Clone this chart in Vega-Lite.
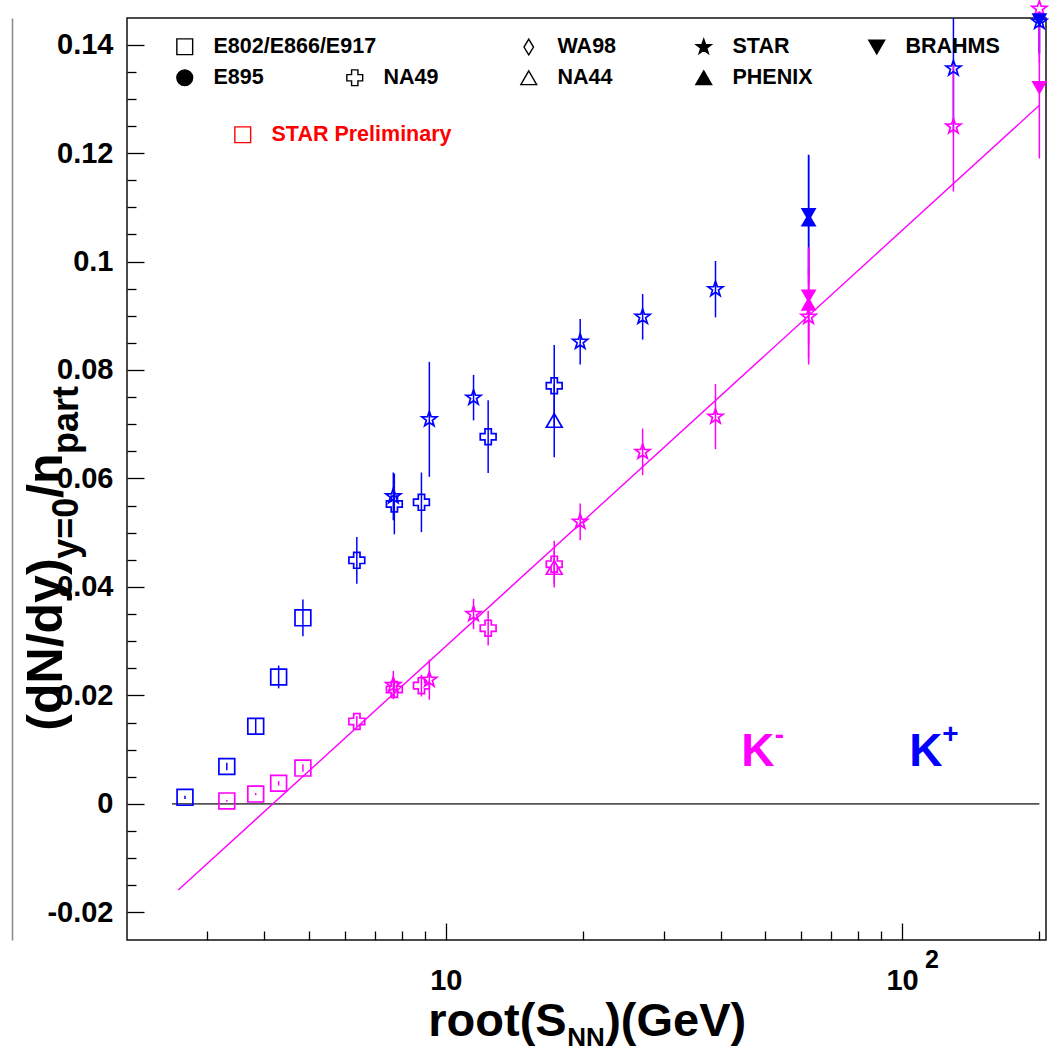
{
  "$schema": "https://vega.github.io/schema/vega-lite/v6.json",
  "width": 919,
  "height": 922,
  "autosize": {"type": "none"},
  "padding": {"left": 127, "top": 18, "right": 3, "bottom": 107},
  "background": "white",
  "config": {
    "view": {"stroke": "#111111", "strokeWidth": 1.5},
    "font": "Liberation Sans",
    "axis": {"labelFont": "Liberation Sans", "labelFontWeight": "bold", "labelColor": "black", "tickColor": "black", "tickWidth": 1.3, "grid": false, "domain": false},
    "legend": {"labelFont": "Liberation Sans", "labelFontSize": 21.5, "labelFontWeight": "bold", "labelColor": "black", "labelOffset": 18, "labelLimit": 600, "title": null, "padding": 0, "symbolSize": 250, "symbolStrokeWidth": 1.4, "rowPadding": 8, "symbolStrokeColor": "black", "symbolOpacity": 1}
  },
  "datasets": {
    "kaons": [
      {"E": 2.68, "y": 0.0012, "ylo": 0.0009, "yhi": 0.0015, "particle": "K+", "exp": "E802/E866/E917", "source": "published"},
      {"E": 3.31, "y": 0.0069, "ylo": 0.0062, "yhi": 0.0076, "particle": "K+", "exp": "E802/E866/E917", "source": "published"},
      {"E": 3.83, "y": 0.0143, "ylo": 0.0129, "yhi": 0.0157, "particle": "K+", "exp": "E802/E866/E917", "source": "published"},
      {"E": 4.30, "y": 0.0234, "ylo": 0.0213, "yhi": 0.0255, "particle": "K+", "exp": "E802/E866/E917", "source": "published"},
      {"E": 4.86, "y": 0.0343, "ylo": 0.0309, "yhi": 0.0377, "particle": "K+", "exp": "E802/E866/E917", "source": "published"},
      {"E": 3.31, "y": 0.00055, "ylo": 0.0004, "yhi": 0.0007, "particle": "K-", "exp": "E802/E866/E917", "source": "published"},
      {"E": 3.83, "y": 0.0018, "ylo": 0.0016, "yhi": 0.002, "particle": "K-", "exp": "E802/E866/E917", "source": "published"},
      {"E": 4.30, "y": 0.0038, "ylo": 0.0034, "yhi": 0.0042, "particle": "K-", "exp": "E802/E866/E917", "source": "published"},
      {"E": 4.86, "y": 0.0066, "ylo": 0.0059, "yhi": 0.0073, "particle": "K-", "exp": "E802/E866/E917", "source": "published"},
      {"E": 6.38, "y": 0.0449, "ylo": 0.0406, "yhi": 0.0492, "particle": "K+", "exp": "NA49", "source": "published"},
      {"E": 7.71, "y": 0.0553, "ylo": 0.0497, "yhi": 0.0609, "particle": "K+", "exp": "NA49", "source": "published"},
      {"E": 8.84, "y": 0.0556, "ylo": 0.0501, "yhi": 0.0611, "particle": "K+", "exp": "NA49", "source": "published"},
      {"E": 12.38, "y": 0.0677, "ylo": 0.061, "yhi": 0.0744, "particle": "K+", "exp": "NA49", "source": "published"},
      {"E": 17.28, "y": 0.0771, "ylo": 0.0696, "yhi": 0.0846, "particle": "K+", "exp": "NA49", "source": "published"},
      {"E": 17.28, "y": 0.0707, "ylo": 0.0639, "yhi": 0.0775, "particle": "K+", "exp": "NA44", "source": "published"},
      {"E": 6.38, "y": 0.0152, "ylo": 0.0142, "yhi": 0.0162, "particle": "K-", "exp": "NA49", "source": "published"},
      {"E": 7.71, "y": 0.0211, "ylo": 0.0196, "yhi": 0.0226, "particle": "K-", "exp": "NA49", "source": "published"},
      {"E": 8.84, "y": 0.0218, "ylo": 0.0198, "yhi": 0.0238, "particle": "K-", "exp": "NA49", "source": "published"},
      {"E": 12.38, "y": 0.0324, "ylo": 0.0292, "yhi": 0.0356, "particle": "K-", "exp": "NA49", "source": "published"},
      {"E": 17.28, "y": 0.0442, "ylo": 0.0399, "yhi": 0.0485, "particle": "K-", "exp": "NA49", "source": "published"},
      {"E": 17.28, "y": 0.0436, "ylo": 0.0406, "yhi": 0.0466, "particle": "K-", "exp": "NA44", "source": "published"},
      {"E": 7.67, "y": 0.0567, "ylo": 0.0523, "yhi": 0.0611, "particle": "K+", "exp": "STAR", "source": "STAR Preliminary"},
      {"E": 9.2, "y": 0.0709, "ylo": 0.0603, "yhi": 0.0815, "particle": "K+", "exp": "STAR", "source": "published"},
      {"E": 11.5, "y": 0.0749, "ylo": 0.0707, "yhi": 0.0791, "particle": "K+", "exp": "STAR", "source": "STAR Preliminary"},
      {"E": 19.7, "y": 0.0852, "ylo": 0.081, "yhi": 0.0894, "particle": "K+", "exp": "STAR", "source": "STAR Preliminary"},
      {"E": 27.0, "y": 0.0898, "ylo": 0.0856, "yhi": 0.094, "particle": "K+", "exp": "STAR", "source": "STAR Preliminary"},
      {"E": 39.0, "y": 0.0949, "ylo": 0.0897, "yhi": 0.1001, "particle": "K+", "exp": "STAR", "source": "STAR Preliminary"},
      {"E": 129.6, "y": 0.1356, "ylo": 0.1236, "yhi": 0.1476, "particle": "K+", "exp": "STAR", "source": "published"},
      {"E": 200, "y": 0.1442, "ylo": 0.1382, "yhi": 0.1502, "particle": "K+", "exp": "STAR", "source": "published"},
      {"E": 7.67, "y": 0.0219, "ylo": 0.0193, "yhi": 0.0245, "particle": "K-", "exp": "STAR", "source": "STAR Preliminary"},
      {"E": 9.2, "y": 0.0229, "ylo": 0.0192, "yhi": 0.0266, "particle": "K-", "exp": "STAR", "source": "published"},
      {"E": 11.5, "y": 0.035, "ylo": 0.0322, "yhi": 0.0378, "particle": "K-", "exp": "STAR", "source": "STAR Preliminary"},
      {"E": 19.7, "y": 0.052, "ylo": 0.0486, "yhi": 0.0554, "particle": "K-", "exp": "STAR", "source": "STAR Preliminary"},
      {"E": 27.0, "y": 0.0649, "ylo": 0.0606, "yhi": 0.0692, "particle": "K-", "exp": "STAR", "source": "STAR Preliminary"},
      {"E": 39.0, "y": 0.0714, "ylo": 0.0654, "yhi": 0.0774, "particle": "K-", "exp": "STAR", "source": "STAR Preliminary"},
      {"E": 62.4, "y": 0.0898, "ylo": 0.081, "yhi": 0.0986, "particle": "K-", "exp": "STAR", "source": "published"},
      {"E": 129.6, "y": 0.1249, "ylo": 0.1129, "yhi": 0.1369, "particle": "K-", "exp": "STAR", "source": "published"},
      {"E": 200, "y": 0.1466, "ylo": 0.1366, "yhi": 0.1566, "particle": "K-", "exp": "STAR", "source": "published"},
      {"E": 62.4, "y": 0.1077, "ylo": 0.0957, "yhi": 0.1197, "particle": "K+", "exp": "PHENIX", "source": "published"},
      {"E": 62.4, "y": 0.1086, "ylo": 0.0976, "yhi": 0.1196, "particle": "K+", "exp": "BRAHMS", "source": "published"},
      {"E": 200, "y": 0.1445, "ylo": 0.1385, "yhi": 0.1505, "particle": "K+", "exp": "BRAHMS", "source": "published"},
      {"E": 62.4, "y": 0.0922, "ylo": 0.0822, "yhi": 0.1022, "particle": "K-", "exp": "PHENIX", "source": "published"},
      {"E": 62.4, "y": 0.0936, "ylo": 0.0846, "yhi": 0.1026, "particle": "K-", "exp": "BRAHMS", "source": "published"},
      {"E": 200, "y": 0.132, "ylo": 0.119, "yhi": 0.145, "particle": "K-", "exp": "BRAHMS", "source": "published"}
    ],
    "fit": [
      {"E": 2.59, "y": -0.0159},
      {"E": 200, "y": 0.1288}
    ],
    "zero": [
      {"E": 2.51, "y": 0},
      {"E": 200, "y": 0}
    ]
  },
  "layer": [
    {
      "data": {"name": "kaons"},
      "mark": {"type": "rule", "strokeWidth": 1.5, "clip": true},
      "encoding": {
        "x": {"field": "E", "type": "quantitative",
          "scale": {"type": "log", "domain": [2, 206.8], "nice": false},
          "axis": {"orient": "bottom", "values": [10, 100], "labelExpr": "'10'", "tickSize": -17, "labelPadding": 43, "labelFontSize": 29, "labelFlush": false, "labelOverlap": false, "title": null}},
        "y": {"field": "ylo", "type": "quantitative",
          "scale": {"domain": [-0.0251, 0.1449], "nice": false, "zero": false},
          "axis": {"orient": "left", "values": [-0.02, 0, 0.02, 0.04, 0.06, 0.08, 0.1, 0.12, 0.14], "labelExpr": "toString(datum.value)", "tickSize": -17, "labelPadding": 31, "labelFontSize": 29, "labelFlush": false, "labelOverlap": false, "title": null}},
        "y2": {"field": "yhi"},
        "color": {"field": "particle", "type": "nominal", "scale": {"domain": ["K+", "K-"], "range": ["#0000ff", "#ff00ff"]}, "legend": null}
      }
    },
    {
      "data": {"name": "zero"},
      "mark": {"type": "line", "color": "#555555", "strokeWidth": 1.6},
      "encoding": {
        "x": {"field": "E", "type": "quantitative",
          "axis": {"orient": "bottom", "values": [3, 4, 5, 6, 7, 8, 9, 20, 30, 40, 50, 60, 70, 80, 90, 200], "tickSize": -9, "labels": false, "title": null}},
        "y": {"field": "y", "type": "quantitative",
          "axis": {"orient": "left", "values": [-0.015, -0.01, -0.005, 0.005, 0.01, 0.015, 0.025, 0.03, 0.035, 0.045, 0.05, 0.055, 0.065, 0.07, 0.075, 0.085, 0.09, 0.095, 0.105, 0.11, 0.115, 0.125, 0.13, 0.135], "tickSize": -9, "labels": false, "title": null}}
      }
    },
    {
      "data": {"name": "fit"},
      "mark": {"type": "line", "color": "#ff00ff", "strokeWidth": 1.4},
      "encoding": {
        "x": {"field": "E", "type": "quantitative", "axis": null},
        "y": {"field": "y", "type": "quantitative",
          "axis": {"orient": "left", "offset": 115, "domain": true, "domainColor": "#888888", "domainWidth": 1.5, "ticks": false, "labels": false, "title": null}}
      }
    },
    {
      "data": {"name": "kaons"},
      "transform": [{"filter": "datum.exp != 'PHENIX' && datum.exp != 'BRAHMS'"}],
      "mark": {"type": "point", "filled": false, "strokeWidth": 1.7},
      "encoding": {
        "x": {"field": "E", "type": "quantitative", "axis": null},
        "y": {"field": "y", "type": "quantitative", "axis": null},
        "color": {"field": "particle", "type": "nominal", "legend": null},
        "shape": {"field": "exp", "type": "nominal",
          "scale": {"domain": [" ", "WA98", "NA49", "NA44", "E802/E866/E917", "STAR"],
            "range": ["M0,0L0,0", "M0,-1L0.6,0L0,1L-0.6,0Z", "cross", "triangle-up", "square", "M0,-1L0.235,-0.324L0.951,-0.309L0.380,0.124L0.588,0.809L0,0.4L-0.588,0.809L-0.380,0.124L-0.951,-0.309L-0.235,-0.324Z"]},
          "legend": {
            "orient": "none", "legendX": 217, "legendY": 18, "columns": 2, "gridAlign": "all", "direction": "horizontal",
            "columnPadding": 75, "values": [" ", "WA98", "NA49", "NA44"],
            "symbolStrokeColor": "black", "symbolFillColor": "transparent"
          }},
        "opacity": {"field": "exp", "type": "nominal",
          "scale": {"domain": ["E802/E866/E917"], "range": [1, 1]},
          "legend": {
            "orient": "none", "legendX": 47, "legendY": 18, "symbolType": "square",
            "symbolStrokeColor": "black", "symbolFillColor": "transparent"
          }},
        "size": {"field": "source", "type": "nominal",
          "scale": {"domain": ["STAR Preliminary", "published"], "range": [250, 250]},
          "legend": {
            "orient": "none", "legendX": 105, "legendY": 106, "values": ["STAR Preliminary"], "symbolType": "square",
            "symbolStrokeColor": "#ff0000", "symbolFillColor": "transparent", "labelColor": "#ff0000"
          }}
      }
    },
    {
      "data": {"name": "kaons"},
      "transform": [{"filter": "datum.exp == 'PHENIX' || datum.exp == 'BRAHMS'"}],
      "mark": {"type": "point", "filled": true, "opacity": 1},
      "encoding": {
        "x": {"field": "E", "type": "quantitative", "axis": null},
        "y": {"field": "y", "type": "quantitative", "axis": null},
        "color": {"field": "particle", "type": "nominal", "legend": null},
        "shape": {"field": "exp", "type": "nominal",
          "scale": {"domain": [" ", "  ", "   ", "STAR", "BRAHMS", "E895", "    ", "     ", "PHENIX"],
            "range": ["M0,0L0,0", "M0,0L0,0", "M0,0L0,0", "M0,-1L0.235,-0.324L0.951,-0.309L0.380,0.124L0.588,0.809L0,0.4L-0.588,0.809L-0.380,0.124L-0.951,-0.309L-0.235,-0.324Z", "triangle-down", "circle", "M0,0L0,0", "M0,0L0,0", "triangle-up"]},
          "legend": {
            "orient": "none", "legendX": 47, "legendY": 18, "columns": 5, "gridAlign": "all", "direction": "horizontal",
            "columnPadding": 39, "symbolStrokeColor": "black", "symbolFillColor": "black"
          }},
        "size": {"field": "source", "type": "nominal"}
      }
    },
    {
      "data": {"values": [{}]},
      "mark": {"type": "text", "font": "Liberation Sans", "fontWeight": "bold", "fontSize": 25, "align": "left", "baseline": "alphabetic", "color": "black", "dx": 23},
      "encoding": {"x": {"datum": 100, "type": "quantitative", "axis": null}, "y": {"datum": -0.0302, "type": "quantitative", "axis": null}, "text": {"value": "2"}}
    },
    {
      "data": {"values": [{}]},
      "mark": {"type": "text", "font": "Liberation Sans", "fontWeight": "bold", "fontSize": 46, "align": "left", "baseline": "alphabetic", "color": "#ff00ff"},
      "encoding": {"x": {"datum": 44.4, "type": "quantitative", "axis": null}, "y": {"datum": 0.0069, "type": "quantitative", "axis": null}, "text": {"value": "K"}}
    },
    {
      "data": {"values": [{}]},
      "mark": {"type": "text", "font": "Liberation Sans", "fontWeight": "bold", "fontSize": 28, "align": "left", "baseline": "alphabetic", "color": "#ff00ff", "dx": 33.5, "dy": -22.7},
      "encoding": {"x": {"datum": 44.4, "type": "quantitative", "axis": null}, "y": {"datum": 0.0069, "type": "quantitative", "axis": null}, "text": {"value": "-"}}
    },
    {
      "data": {"values": [{}]},
      "mark": {"type": "text", "font": "Liberation Sans", "fontWeight": "bold", "fontSize": 46, "align": "left", "baseline": "alphabetic", "color": "#0000ff"},
      "encoding": {"x": {"datum": 103.7, "type": "quantitative", "axis": null}, "y": {"datum": 0.0069, "type": "quantitative", "axis": null}, "text": {"value": "K"}}
    },
    {
      "data": {"values": [{}]},
      "mark": {"type": "text", "font": "Liberation Sans", "fontWeight": "bold", "fontSize": 28, "align": "left", "baseline": "alphabetic", "color": "#0000ff", "dx": 33, "dy": -23},
      "encoding": {"x": {"datum": 103.7, "type": "quantitative", "axis": null}, "y": {"datum": 0.0069, "type": "quantitative", "axis": null}, "text": {"value": "+"}}
    },
    {
      "data": {"values": [{}]},
      "mark": {"type": "text", "font": "Liberation Sans", "fontWeight": "bold", "fontSize": 47, "align": "right", "baseline": "alphabetic", "color": "black"},
      "encoding": {"x": {"datum": 18.4, "type": "quantitative", "axis": null}, "y": {"datum": -0.0428, "type": "quantitative", "axis": null}, "text": {"value": "root(S"}}
    },
    {
      "data": {"values": [{}]},
      "mark": {"type": "text", "font": "Liberation Sans", "fontWeight": "bold", "fontSize": 26, "align": "left", "baseline": "alphabetic", "color": "black"},
      "encoding": {"x": {"datum": 18.45, "type": "quantitative", "axis": null}, "y": {"datum": -0.0446, "type": "quantitative", "axis": null}, "text": {"value": "NN"}}
    },
    {
      "data": {"values": [{}]},
      "mark": {"type": "text", "font": "Liberation Sans", "fontWeight": "bold", "fontSize": 47, "align": "left", "baseline": "alphabetic", "color": "black"},
      "encoding": {"x": {"datum": 22.35, "type": "quantitative", "axis": null}, "y": {"datum": -0.0428, "type": "quantitative", "axis": null}, "text": {"value": ")(GeV)"}}
    },
    {
      "data": {"values": [{}]},
      "mark": {"type": "text", "font": "Liberation Sans", "fontWeight": "bold", "fontSize": 50, "align": "left", "baseline": "alphabetic", "angle": 270, "color": "black"},
      "encoding": {"x": {"datum": 1.441, "type": "quantitative", "axis": null}, "y": {"datum": 0.0135, "type": "quantitative", "axis": null}, "text": {"value": "(dN/dy)"}}
    },
    {
      "data": {"values": [{}]},
      "mark": {"type": "text", "font": "Liberation Sans", "fontWeight": "bold", "fontSize": 36, "align": "left", "baseline": "alphabetic", "angle": 270, "color": "black"},
      "encoding": {"x": {"datum": 1.562, "type": "quantitative", "axis": null}, "y": {"datum": 0.0452, "type": "quantitative", "axis": null}, "text": {"value": "y=0"}}
    },
    {
      "data": {"values": [{}]},
      "mark": {"type": "text", "font": "Liberation Sans", "fontWeight": "bold", "fontSize": 50, "align": "left", "baseline": "alphabetic", "angle": 270, "color": "black"},
      "encoding": {"x": {"datum": 1.441, "type": "quantitative", "axis": null}, "y": {"datum": 0.0564, "type": "quantitative", "axis": null}, "text": {"value": "/n"}}
    },
    {
      "data": {"values": [{}]},
      "mark": {"type": "text", "font": "Liberation Sans", "fontWeight": "bold", "fontSize": 36, "align": "left", "baseline": "alphabetic", "angle": 270, "color": "black"},
      "encoding": {"x": {"datum": 1.562, "type": "quantitative", "axis": null}, "y": {"datum": 0.0645, "type": "quantitative", "axis": null}, "text": {"value": "part"}}
    }
  ],
  "resolve": {"axis": {"x": "independent", "y": "independent"}, "scale": {"shape": "independent"}, "legend": {"shape": "independent"}}
}
